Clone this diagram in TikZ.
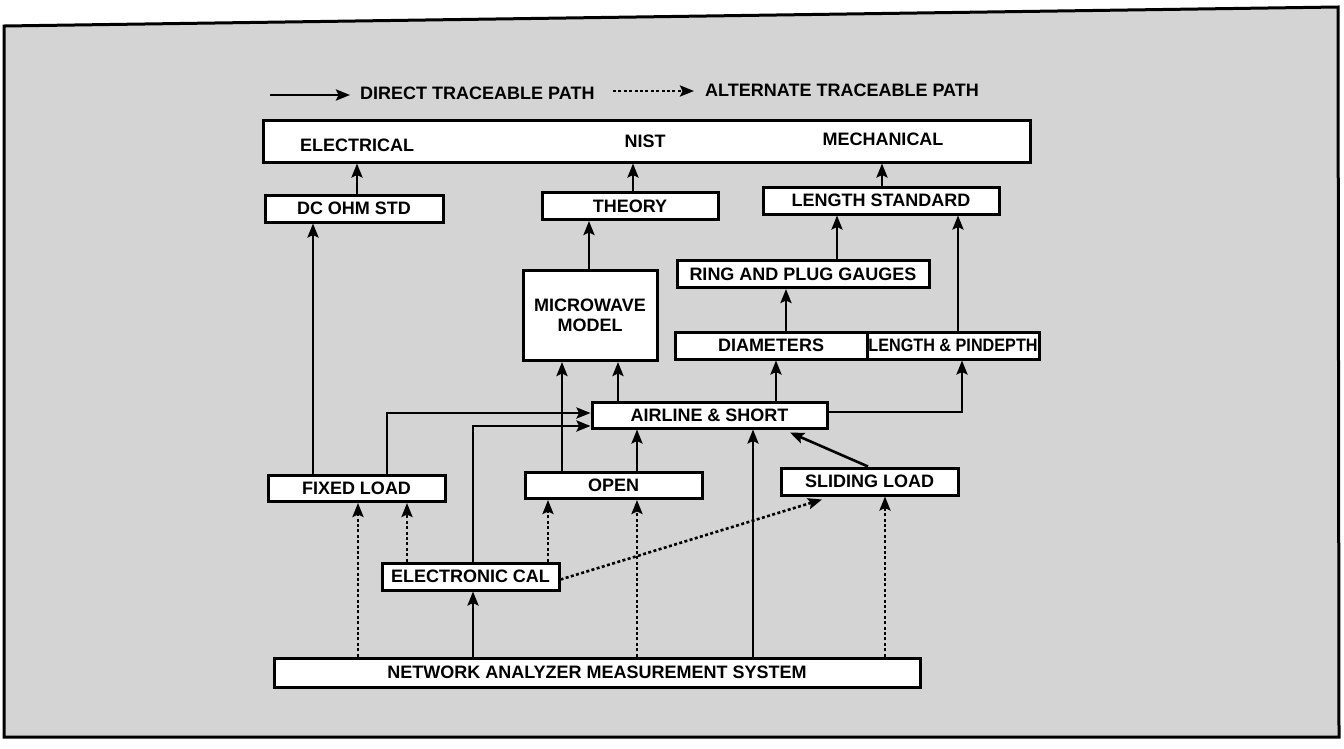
\documentclass[tikz,border=0pt]{standalone}
\usepackage{fontspec}
\setmainfont{Liberation Sans}
\usetikzlibrary{arrows.meta}
\begin{document}
\begin{tikzpicture}[x=1pt,y=-1pt,
  box/.style={draw=black, fill=white, line width=3pt, inner sep=0pt,
    font=\bfseries\fontsize{18}{20.5}\selectfont},
  lbl/.style={inner sep=0pt, font=\bfseries\fontsize{18}{20.5}\selectfont},
  arr/.style={line width=2.6pt, -{Stealth[length=14pt,width=11pt,inset=2.5pt]}},
  darr/.style={arr, dash pattern=on 3pt off 2.4pt},
]
\useasboundingbox (0,0) rectangle (1344,748);
\fill[white] (0,0) rectangle (1344,748);
% frame
\draw[line width=3pt, fill=black!17] (4,26) -- (1338,7) -- (1339,737) -- (4,737) -- cycle;

% legend
\coordinate (l1) at (270,95);
\coordinate (l2) at (350,95);
\draw[arr] (l1) -- (l2);
\node[lbl, anchor=west] (ldir) at (360,93) {DIRECT TRACEABLE PATH};
\coordinate (l3) at (613,91);
\coordinate (l4) at (694,91);
\draw[darr] (l3) -- (l4);
\node[lbl, anchor=west] (lalt) at (705,90) {ALTERNATE TRACEABLE PATH};

% boxes
\node[box, minimum width=767pt, minimum height=42pt] (nist) at (646.5,141) {};
\node[lbl] (telec) at (357,145) {ELECTRICAL};
\node[lbl] (tnist) at (645,141) {NIST};
\node[lbl] (tmech) at (883,139) {MECHANICAL};

\node[box, minimum width=178pt, minimum height=27pt] (dcohm) at (354,208.5) {DC OHM STD};
\node[box, minimum width=176pt, minimum height=27pt] (theory) at (630,206) {THEORY};
\node[box, minimum width=236pt, minimum height=27pt] (lstd) at (881,200.5) {LENGTH STANDARD};
\node[box, minimum width=252pt, minimum height=27pt] (ring) at (803,274) {RING AND PLUG GAUGES};
\node[box, minimum width=134pt, minimum height=90pt, align=center] (mm) at (590,315.5) {MICROWAVE\\MODEL};
\node[box, minimum width=192pt, minimum height=27pt] (diam) at (771,345.5) {DIAMETERS};
\node[box, minimum width=172pt, minimum height=27pt] (lpd) at (953,345.5) {\scalebox{0.9}[1]{LENGTH \& PINDEPTH}};
\node[box, minimum width=235pt, minimum height=26pt] (air) at (709.5,415) {AIRLINE \& SHORT};
\node[box, minimum width=177pt, minimum height=26pt] (fixed) at (356.5,488.5) {FIXED LOAD};
\node[box, minimum width=177pt, minimum height=26pt] (open) at (613.5,485.5) {OPEN};
\node[box, minimum width=177pt, minimum height=27pt] (slide) at (869.5,481.5) {SLIDING LOAD};
\node[box, minimum width=177pt, minimum height=27pt] (ecal) at (470.5,576.5) {ELECTRONIC CAL};
\node[box, minimum width=646pt, minimum height=29pt] (net) at (597,672.5) {NETWORK ANALYZER MEASUREMENT SYSTEM};

% columns
\coordinate (xa) at (357,0);
\coordinate (xb) at (633,0);
\coordinate (xc) at (882,0);
\coordinate (xd) at (313,0);
\coordinate (xe) at (589,0);
\coordinate (xf) at (837,0);
\coordinate (xg) at (958,0);
\coordinate (xh) at (786,0);
\coordinate (xi) at (776,0);
\coordinate (xj) at (618,0);
\coordinate (xk) at (562,0);
\coordinate (xl) at (962,0);
\coordinate (xm) at (387,0);
\coordinate (xn) at (473,0);
\coordinate (xo) at (637,0);
\coordinate (xp) at (753,0);
\coordinate (xq) at (358,0);
\coordinate (xr) at (407,0);
\coordinate (xs) at (548,0);
\coordinate (xt) at (885,0);
\coordinate (xu) at (868,0);
\coordinate (xv) at (790,0);
\coordinate (xw) at (822,0);
\coordinate (ya) at (0,413);
\coordinate (yb) at (0,426);
\coordinate (yc) at (0,412);

% solid connectors
\draw[arr] (dcohm.north -| xa) -- (nist.south -| xa);
\draw[arr] (theory.north -| xb) -- (nist.south -| xb);
\draw[arr] (lstd.north -| xc) -- (nist.south -| xc);
\draw[arr] (fixed.north -| xd) -- (dcohm.south -| xd);
\draw[arr] (mm.north -| xe) -- (theory.south -| xe);
\draw[arr] (ring.north -| xf) -- (lstd.south -| xf);
\draw[arr] (lpd.north -| xg) -- (lstd.south -| xg);
\draw[arr] (diam.north -| xh) -- (ring.south -| xh);
\draw[arr] (air.north -| xi) -- (diam.south -| xi);
\draw[arr] (air.north -| xj) -- (mm.south -| xj);
\draw[arr] (open.north -| xk) -- (mm.south -| xk);
\draw[arr] (air.east |- yc) -| (lpd.south -| xl);
\draw[arr] (fixed.north -| xm) |- (air.west |- ya);
\draw[arr] (ecal.north -| xn) |- (air.west |- yb);
\draw[arr] (open.north -| xo) -- (air.south -| xo);
\draw[arr] (net.north -| xp) -- (air.south -| xp);
\draw[arr] (slide.north -| xu) -- ([yshift=-3pt]air.south -| xv);
\draw[arr] (net.north -| xn) -- (ecal.south -| xn);

% dotted connectors
\draw[darr] (net.north -| xq) -- (fixed.south -| xq);
\draw[darr] (ecal.north -| xr) -- (fixed.south -| xr);
\draw[darr] (ecal.north -| xs) -- (open.south -| xs);
\draw[darr] (net.north -| xo) -- (open.south -| xo);
\draw[darr] (net.north -| xt) -- (slide.south -| xt);
\draw[darr] ([yshift=-3pt]ecal.east) -- ([yshift=-3pt]slide.south -| xw);
\end{tikzpicture}
\end{document}
